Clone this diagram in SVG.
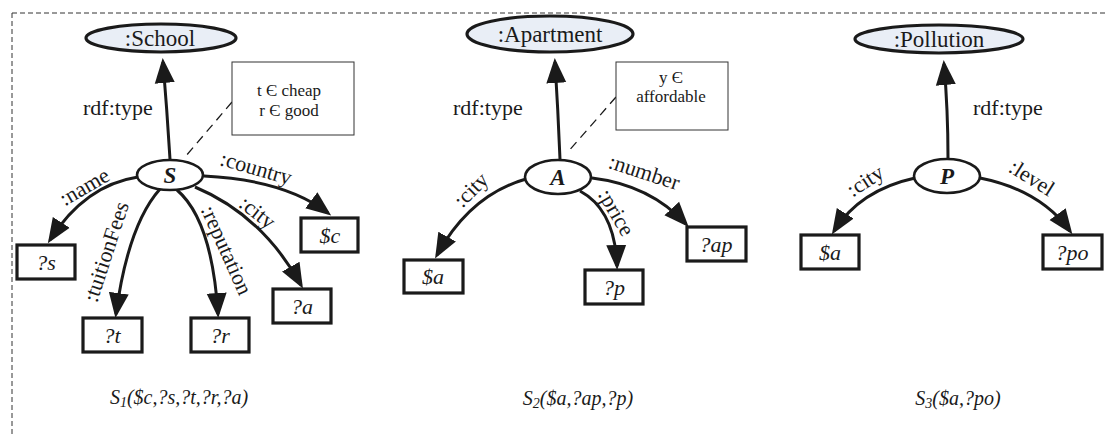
<svg xmlns="http://www.w3.org/2000/svg" width="1106" height="437" viewBox="0 0 1106 437" font-family="Liberation Serif, Times New Roman, DejaVu Serif, serif">
<style>
text{fill:#1a1a1a}
.cls{fill:#e9eef6;stroke:#1a1a1a;stroke-width:3.2}
.var{fill:#fff;stroke:#1a1a1a;stroke-width:2.6}
.box{fill:#fff;stroke:#1a1a1a;stroke-width:3.2}
.cbox{fill:#fff;stroke:#333;stroke-width:1}
.e{fill:none;stroke:#1a1a1a;stroke-width:3;marker-end:url(#ah)}
.d{fill:none;stroke:#1a1a1a;stroke-width:1.3;stroke-dasharray:9,6}
.lbl{font-size:22px}
.it{font-style:italic}
</style>
<defs>
<marker id="ah" markerUnits="userSpaceOnUse" markerWidth="28" markerHeight="24" viewBox="0 0 28 24" refX="21" refY="12" orient="auto">
<path d="M0,2 L25,12 L0,22 z" fill="#1a1a1a"/>
</marker>
</defs>
<rect width="1106" height="437" fill="#fff"/>
<path d="M12,13 H1106 M12,13 V437" fill="none" stroke="#333" stroke-width="1" stroke-dasharray="5,3"/>

<g id="connectors">
<path class="e" d="M170,159 Q167,110 163,62"/>
<path class="e" d="M138,177 Q85,185 50,240"/>
<path class="e" d="M160,189 Q128,225 116,314"/>
<path class="e" d="M177,190 Q212,220 218,314"/>
<path class="e" d="M195,187 Q262,215 301,285"/>
<path class="e" d="M204,176 Q285,180 328,213"/>
<path class="d" d="M232,102 L185,157"/>
<path class="e" d="M560,159 Q558,110 555,62"/>
<path class="e" d="M526,179 Q470,195 437,255"/>
<path class="e" d="M580,191 Q615,210 617,266"/>
<path class="e" d="M592,178 Q650,185 686,224"/>
<path class="d" d="M616,97 L567,153"/>
<path class="e" d="M948,158 Q948,110 944,64"/>
<path class="e" d="M915,178 Q860,190 834,231"/>
<path class="e" d="M980,178 Q1040,190 1070,231"/>
</g>

<g id="edge-labels" class="lbl" font-family="Liberation Serif, serif">
<text x="83" y="115">rdf:type</text>
<text transform="translate(88,193) rotate(-30)" text-anchor="middle">:name</text>
<text transform="translate(113,254) rotate(-72)" text-anchor="middle">:tuitionFees</text>
<text transform="translate(220,253) rotate(66)" text-anchor="middle">:reputation</text>
<text transform="translate(253,218) rotate(38)" text-anchor="middle">:city</text>
<text transform="translate(254,175) rotate(16)" text-anchor="middle">:country</text>
<text x="453" y="115">rdf:type</text>
<text transform="translate(476,195) rotate(-45)" text-anchor="middle">:city</text>
<text transform="translate(610,216) rotate(60)" text-anchor="middle">:price</text>
<text transform="translate(642,179) rotate(18)" text-anchor="middle">:number</text>
<text x="973" y="115">rdf:type</text>
<text transform="translate(869,187) rotate(-33)" text-anchor="middle">:city</text>
<text transform="translate(1028,184) rotate(32)" text-anchor="middle">:level</text>
</g>

<g id="school">
<ellipse class="cls" cx="161" cy="38" rx="75" ry="14"/>
<text x="160" y="46" font-size="23" text-anchor="middle">:School</text>
</g>
<g id="S">
<ellipse class="var" cx="170" cy="175" rx="33" ry="15"/>
<text class="it" x="170" y="183" font-size="23" font-weight="bold" text-anchor="middle">S</text>
</g>
<g id="c1">
<rect class="cbox" x="232" y="62" width="122" height="73"/>
<text x="289" y="96" font-size="17" text-anchor="middle">t Є cheap</text>
<text x="289" y="116" font-size="17" text-anchor="middle">r Є good</text>
</g>
<g id="vs"><rect class="box" x="17" y="245" width="58" height="34"/><text class="it" x="46" y="270" font-size="22" text-anchor="middle">?s</text></g>
<g id="vt"><rect class="box" x="83" y="318" width="59" height="34"/><text class="it" x="112" y="343" font-size="22" text-anchor="middle">?t</text></g>
<g id="vr"><rect class="box" x="191" y="318" width="58" height="34"/><text class="it" x="220" y="343" font-size="22" text-anchor="middle">?r</text></g>
<g id="va"><rect class="box" x="273" y="289" width="58" height="34"/><text class="it" x="302" y="314" font-size="22" text-anchor="middle">?a</text></g>
<g id="vc"><rect class="box" x="301" y="218" width="57" height="34"/><text class="it" x="330" y="243" font-size="22" text-anchor="middle">$c</text></g>
<g id="cap1"><text class="it" x="179" y="404" font-size="20" text-anchor="middle">S<tspan font-size="14" dy="3">1</tspan><tspan dy="-3">($c,?s,?t,?r,?a)</tspan></text></g>

<g id="apartment">
<ellipse class="cls" cx="550" cy="34" rx="83" ry="18"/>
<text x="550" y="42" font-size="23" text-anchor="middle">:Apartment</text>
</g>
<g id="A">
<ellipse class="var" cx="558" cy="177" rx="33" ry="17"/>
<text class="it" x="558" y="185" font-size="23" font-weight="bold" text-anchor="middle">A</text>
</g>
<g id="c2">
<rect class="cbox" x="616" y="62" width="112" height="68"/>
<text x="671" y="83" font-size="17" text-anchor="middle">y Є</text>
<text x="671" y="102" font-size="17" text-anchor="middle">affordable</text>
</g>
<g id="va2"><rect class="box" x="404" y="260" width="59" height="33"/><text class="it" x="433" y="284" font-size="22" text-anchor="middle">$a</text></g>
<g id="vp"><rect class="box" x="585" y="270" width="58" height="34"/><text class="it" x="614" y="295" font-size="22" text-anchor="middle">?p</text></g>
<g id="vap"><rect class="box" x="687" y="227" width="59" height="34"/><text class="it" x="716" y="252" font-size="22" text-anchor="middle">?ap</text></g>
<g id="cap2"><text class="it" x="578" y="405" font-size="20" text-anchor="middle">S<tspan font-size="14" dy="3">2</tspan><tspan dy="-3">($a,?ap,?p)</tspan></text></g>

<g id="pollution">
<ellipse class="cls" cx="939" cy="39" rx="84" ry="14"/>
<text x="939" y="47" font-size="23" text-anchor="middle">:Pollution</text>
</g>
<g id="P">
<ellipse class="var" cx="947" cy="176" rx="33" ry="17"/>
<text class="it" x="947" y="184" font-size="23" font-weight="bold" text-anchor="middle">P</text>
</g>
<g id="va3"><rect class="box" x="801" y="235" width="58" height="34"/><text class="it" x="830" y="260" font-size="22" text-anchor="middle">$a</text></g>
<g id="vpo"><rect class="box" x="1043" y="235" width="59" height="34"/><text class="it" x="1072" y="260" font-size="22" text-anchor="middle">?po</text></g>
<g id="cap3"><text class="it" x="958" y="405" font-size="20" text-anchor="middle">S<tspan font-size="14" dy="3">3</tspan><tspan dy="-3">($a,?po)</tspan></text></g>
</svg>
